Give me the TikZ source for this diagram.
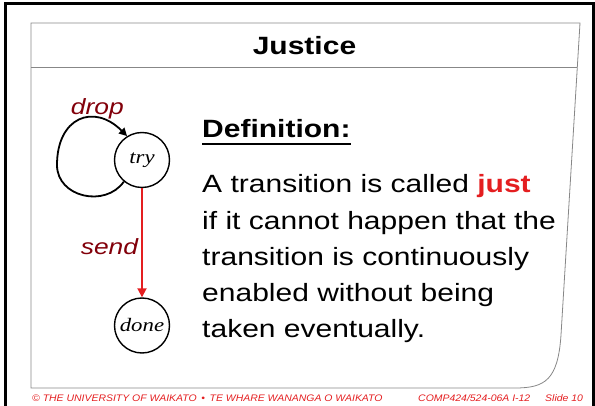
\documentclass[tikz,border=0pt]{standalone}
\usepackage{fontspec}
\setmainfont{Liberation Sans}
\newfontfamily\statefont{Liberation Serif}
\usepackage{graphicx}
\usepackage{xcolor}
\usetikzlibrary{arrows.meta, positioning, calc}

\definecolor{slidered}{RGB}{228,30,32}
\definecolor{labelred}{RGB}{130,0,10}
\definecolor{framegray}{RGB}{135,135,135}
\newcommand{\stname}[1]{\scalebox{1.2}[1]{\statefont\itshape #1}}

\begin{document}
\begin{tikzpicture}[x=1pt, y=1pt,
    state/.style={circle, draw, line width=1.4pt, minimum size=55pt, inner sep=0pt, font=\fontsize{19}{22}\selectfont},
    lbl/.style={inner sep=0pt, text=labelred, xscale=1.2, font=\fontsize{22}{26}\selectfont\itshape},
    txt/.style={inner sep=0pt, xscale=1.2, align=left, font=\fontsize{25}{36.3}\selectfont},
    foot/.style={inner sep=0pt, anchor=base west, text=slidered, xscale=1.1, font=\fontsize{9.5}{11}\selectfont\itshape}]
    \useasboundingbox (0,0) rectangle (595,405);

    % slide frame
    \draw[line width=3pt] (5,-2) -- (5,401.5) -- (593.5,401.5) -- (593.5,-2);
    \draw[framegray, line width=0.8pt] (31,382) -- (580,382) -- (561,70)
        .. controls (558,25) and (545,17) .. (515,17) -- (31,17) -- cycle;
    \draw[framegray, line width=0.8pt] (31,338) -- (577.3,338);

    % heading and text
    \node[txt, anchor=base, font=\fontsize{25}{30}\selectfont\bfseries] (title) at (304.5,350) {Justice};
    \node[txt, anchor=base west, font=\fontsize{25}{30}\selectfont\bfseries] (defn) at (202,267.7) {Definition:};
    \draw[line width=2.4pt] ([yshift=-6.5pt]defn.base west) -- ([yshift=-6.5pt]defn.base east);
    % base of a multi-line node is its last line
    \node[txt, anchor=base west] (body) at (202,67.1) {A transition is called {\color{slidered}\bfseries just}\\
        if it cannot happen that the\\
        transition is continuously\\
        enabled without being\\
        taken eventually.};

    % the two states
    \node[state] (try) at (142,245) {\stname{try}};
    \node[state] (done) at (142,79.5) {\stname{done}};
    \coordinate (dropleft) at (57,240);

    \draw[line width=1.8pt, -{Triangle[length=8pt, width=8pt]}] (try.230)
        to[out=235, in=-90, looseness=1.2] (dropleft)
        to[out=90, in=135, looseness=1.6] (try.122);
    \draw[slidered, line width=1.8pt, -{Triangle[length=9pt, width=9pt]}] (try) -- (done);

    \node[lbl, anchor=base west] (droplbl) at (70.7,290) {drop};
    \node[lbl, anchor=base east] (sendlbl) at (138.3,150) {send};

    % footer
    \node[foot] (uni) at (32,3.3) {\textcopyright\ THE UNIVERSITY OF WAIKATO \,\textbullet\, TE WHARE WANANGA O WAIKATO};
    \node[foot] (course) at (418,3.3) {COMP424/524-06A I-12};
    \node[foot] (slide) at (545,3.3) {Slide 10};
\end{tikzpicture}
\end{document}
